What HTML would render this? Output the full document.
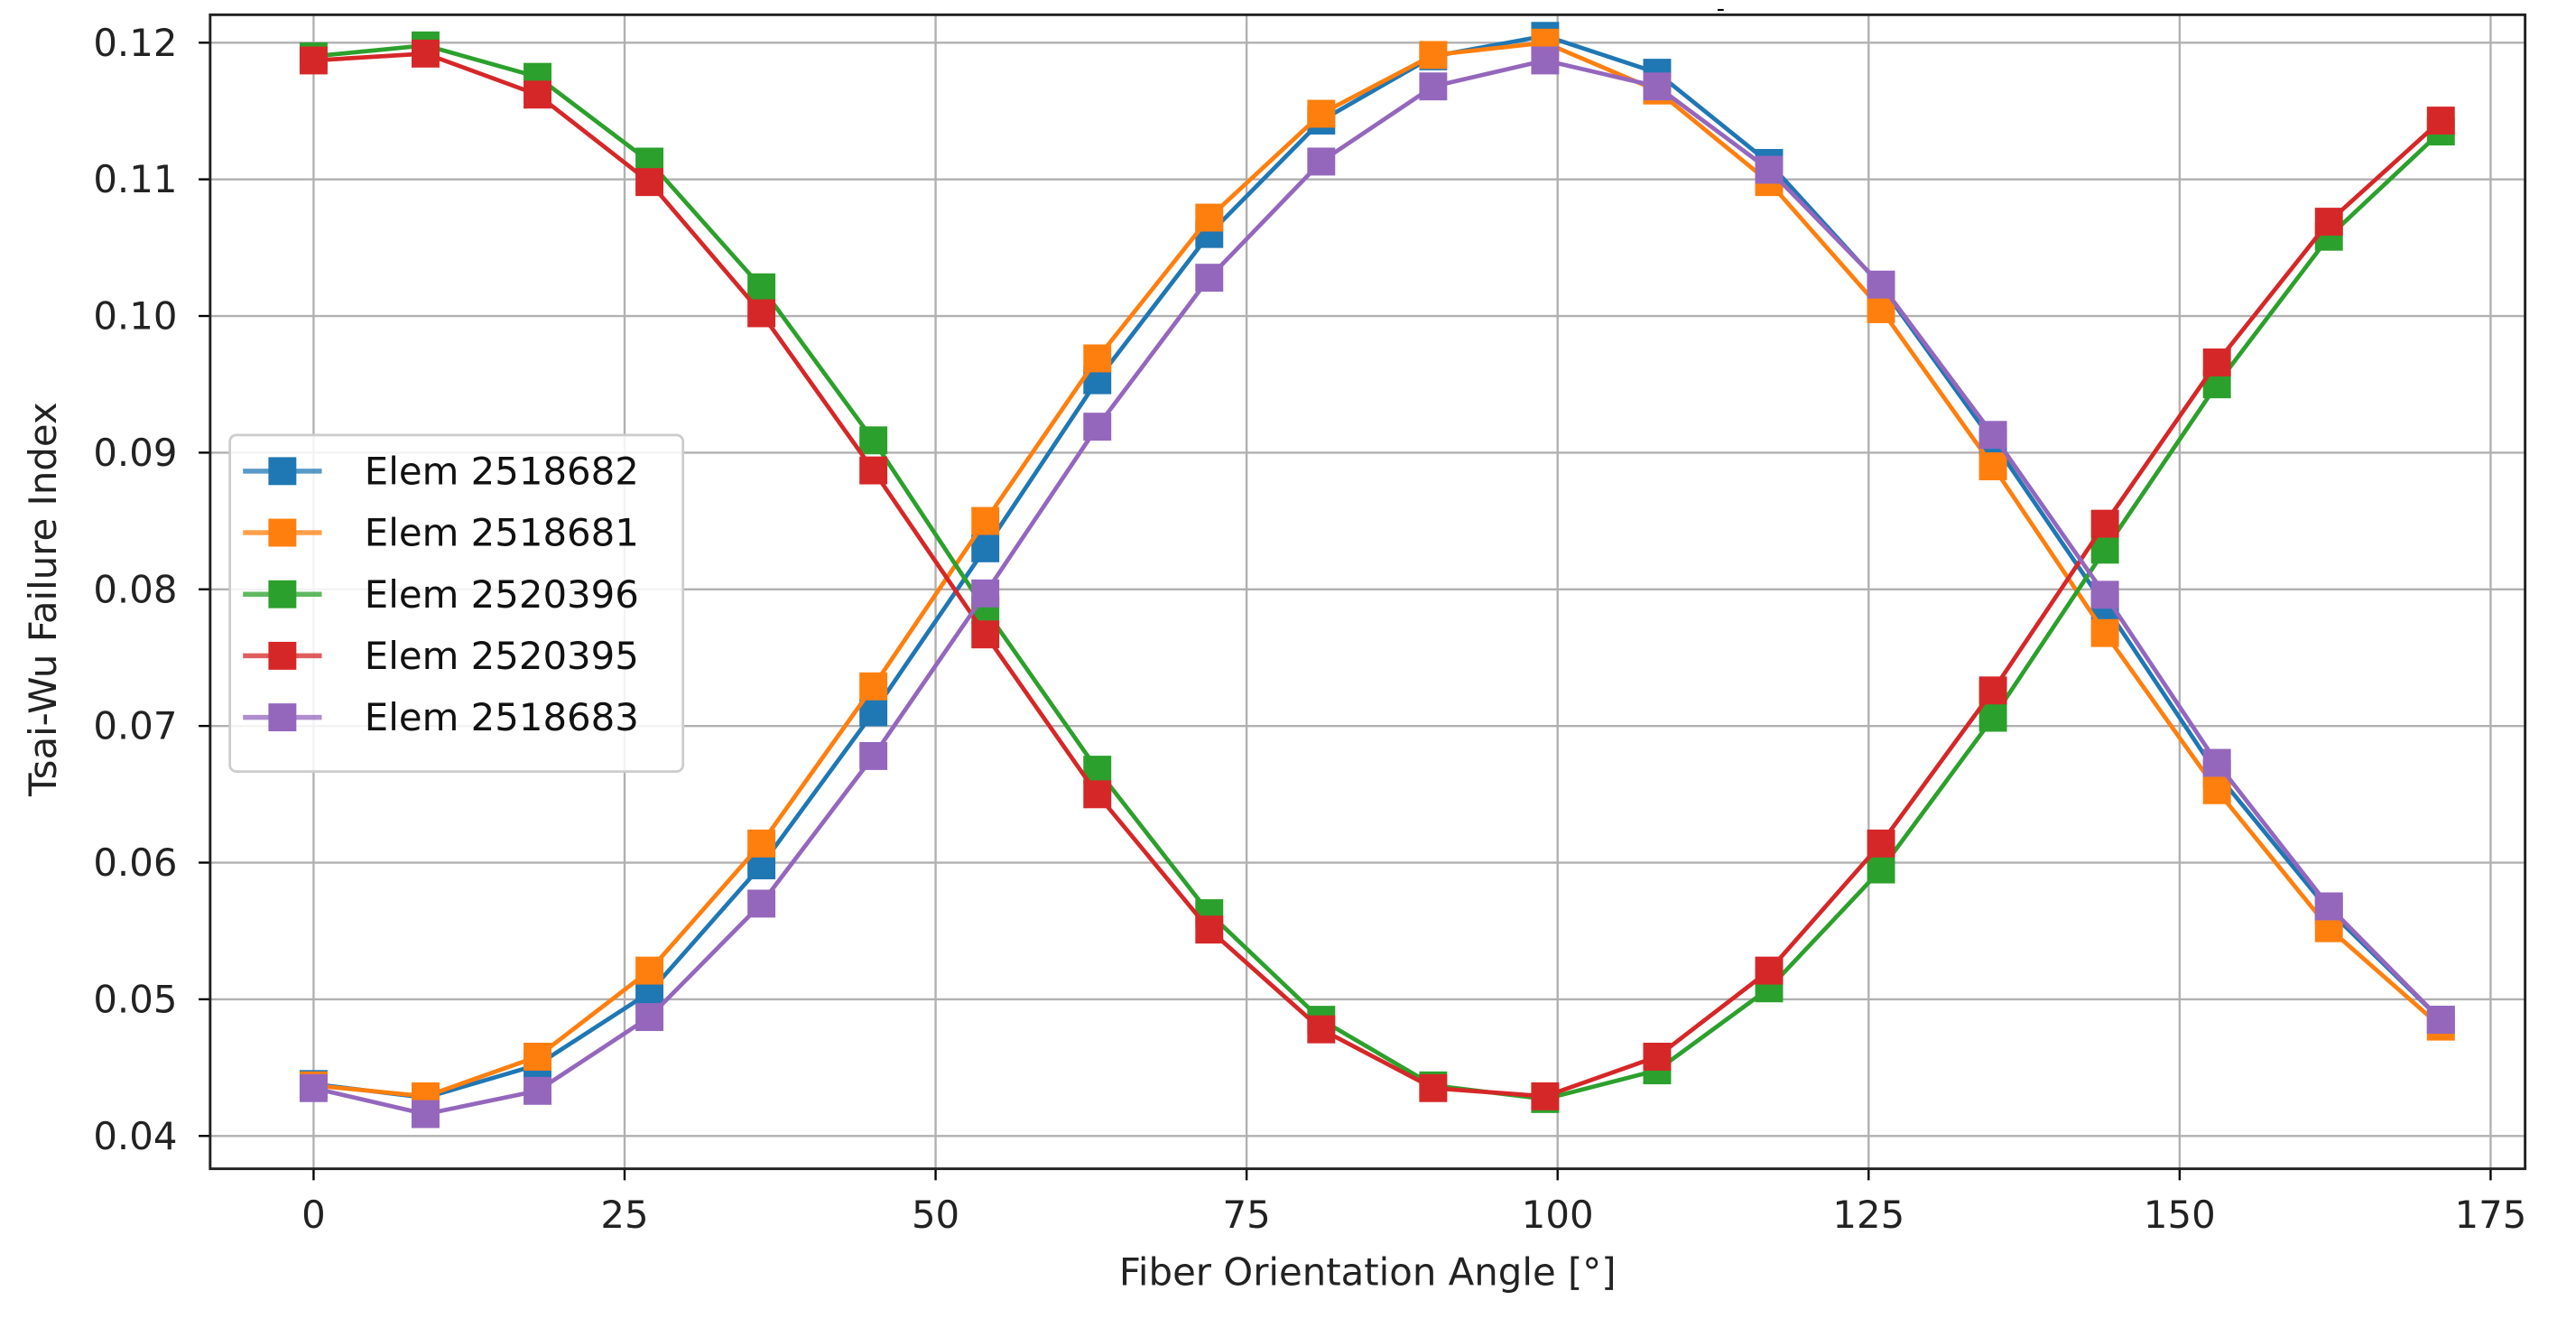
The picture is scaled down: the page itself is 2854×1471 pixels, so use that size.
<!DOCTYPE html>
<html><head><meta charset="utf-8"><style>
body{margin:0;background:#fff;}
svg{display:block;font-family:"DejaVu Sans","Liberation Sans",sans-serif;}
</style></head><body>
<svg id="chart" width="2854" height="1471" viewBox="0 0 1569 809" preserveAspectRatio="none" xmlns="http://www.w3.org/2000/svg">
<text x="1048" y="10" font-size="14" text-anchor="middle">-</text>
<g id="grid"></g><g id="series"></g><g id="axes"></g><g id="legend"></g>
</svg>
<script>
const angles=[0,9,18,27,36,45,54,63,72,81,90,99,108,117,126,135,144,153,162,171];
const seriesNames=["Elem 2518682","Elem 2518681","Elem 2520396","Elem 2520395","Elem 2518683"];
const seriesColors=["#1f77b4","#ff7f0e","#2ca02c","#d62728","#9467bd"];
const blueVals=[0.0438,0.0428,0.0452,0.0505,0.0598,0.071,0.083,0.0953,0.106,0.1143,0.119,0.1205,0.1178,0.1112,0.1022,0.0908,0.0788,0.0665,0.0565,0.0485];
const orangeVals=[0.0437,0.0429,0.0458,0.0521,0.0614,0.0729,0.0850,0.0969,0.1072,0.1148,0.1191,0.1200,0.1165,0.1098,0.1005,0.0890,0.0768,0.0653,0.0552,0.0480];
const greenVals=[0.1190,0.1198,0.1175,0.1113,0.1021,0.0909,0.0785,0.0668,0.0563,0.0485,0.0437,0.0427,0.0448,0.0508,0.0595,0.0706,0.0829,0.0950,0.1058,0.1135];
const redVals=[0.1187,0.1192,0.1162,0.1098,0.1002,0.0887,0.0767,0.0650,0.0551,0.0478,0.0435,0.0429,0.0458,0.0521,0.0614,0.0726,0.0848,0.0966,0.1069,0.1143];
const purpleVals=[0.0435,0.0416,0.0433,0.0487,0.0570,0.0678,0.0797,0.0919,0.1028,0.1113,0.1168,0.1187,0.1168,0.1107,0.1023,0.0913,0.0796,0.0673,0.0568,0.0485];
const xTicks=[0,25,50,75,100,125,150,175];
const yTicks=[0.04,0.05,0.06,0.07,0.08,0.09,0.10,0.11,0.12];
const yTickLabels=["0.04","0.05","0.06","0.07","0.08","0.09","0.10","0.11","0.12"];

const NS="http://www.w3.org/2000/svg";
const L=128,R=1538,T=9,B=712,FS=23;
const X=v=>191+v*(1517-191)/175;
const Y=v=>692-(v-0.04)*(692-26)/0.08;
function mk(tag,attrs,parent){const e=document.createElementNS(NS,tag);for(const k in attrs)e.setAttribute(k,attrs[k]);parent.appendChild(e);return e;}
const grid=document.getElementById('grid'),axes=document.getElementById('axes'),ser=document.getElementById('series'),leg=document.getElementById('legend');
xTicks.forEach(t=>{
  const g=mk('line',{x1:X(t),x2:X(t),y1:T,y2:B,stroke:'#b0b0b0','stroke-width':1.3},grid);
  
  
  mk('line',{x1:X(t),x2:X(t),y1:B,y2:B+7,stroke:'#000','stroke-width':1.3},axes);
  const tx=mk('text',{x:X(t),y:B+36,'font-size':FS,'text-anchor':'middle',fill:'#222'},axes);tx.textContent=t;
  
  
});
yTicks.forEach((t,i)=>{
  const g=mk('line',{x1:L,x2:R,y1:Y(t),y2:Y(t),stroke:'#b0b0b0','stroke-width':1.3},grid);
  
  
  mk('line',{x1:L-7,x2:L,y1:Y(t),y2:Y(t),stroke:'#000','stroke-width':1.3},axes);
  const tx=mk('text',{x:L-20,y:Y(t)+8,'font-size':FS,'text-anchor':'end',fill:'#222'},axes);tx.textContent=yTickLabels[i];
  
  
});
const frame=mk('rect',{x:L,y:T,width:R-L,height:B-T,fill:'none',stroke:'#222','stroke-width':1.6},axes);


const xl=mk('text',{x:833,y:783,'font-size':FS,'text-anchor':'middle',fill:'#222'},axes);xl.textContent='Fiber Orientation Angle [°]';


const yl=mk('text',{x:0,y:0,'font-size':FS,'text-anchor':'middle',fill:'#222',transform:'translate(34,365) rotate(-90)'},axes);yl.textContent='Tsai-Wu Failure Index';


const all=[blueVals,orangeVals,greenVals,redVals,purpleVals];
all.forEach((vals,s)=>{
  const g=mk('g',{},ser);
  
  
  mk('polyline',{points:vals.map((v,i)=>X(angles[i])+','+Y(v)).join(' '),fill:'none',stroke:seriesColors[s],'stroke-width':2.6},g);
  vals.forEach((v,i)=>{
    const m=mk('rect',{x:X(angles[i])-8.5,y:Y(v)-8.5,width:17,height:17,fill:seriesColors[s]},g);
    
    
  });
});
const lb=mk('rect',{x:140,y:265,width:276,height:205,fill:'#fff','fill-opacity':0.85,stroke:'#ccc','stroke-width':1.5,rx:4},leg);


seriesNames.forEach((n,s)=>{
  const y=287+s*37.5;
  const g=mk('g',{},leg);
  
  
  mk('line',{x1:148,x2:196,y1:y,y2:y,stroke:seriesColors[s],'stroke-width':3,'stroke-opacity':0.75},g);
  mk('rect',{x:163.5,y:y-8.5,width:17,height:17,fill:seriesColors[s]},g);
  const t=mk('text',{x:222,y:y+8,'font-size':FS,fill:'#111'},g);t.textContent=n;
});
</script>
</body></html>
